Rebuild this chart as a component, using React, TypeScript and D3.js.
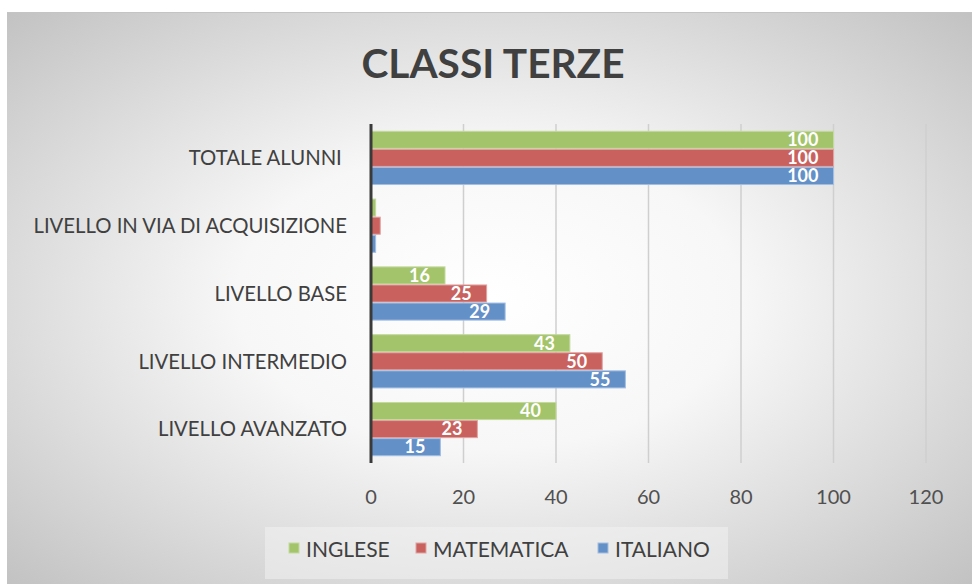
import React from "react";
import * as d3 from "d3";

const categories = [
  "TOTALE ALUNNI ",
  "LIVELLO IN VIA DI ACQUISIZIONE",
  "LIVELLO BASE",
  "LIVELLO INTERMEDIO",
  "LIVELLO AVANZATO",
];
const seriesNames = ["INGLESE", "MATEMATICA", "ITALIANO"];
const inglese = [100, 1, 16, 43, 40];
const matematica = [100, 2, 25, 50, 23];
const italiano = [100, 1, 29, 55, 15];
const xTicks = [0, 20, 40, 60, 80, 100, 120];
const colors = ["#a4c46b", "#c9625f", "#6490c8"];
const strokes = ["#c3d9a0", "#e0a3a1", "#a2bee2"];

const W = 972;
const H = 584;
const FONT = "Lato, 'Open Sans', sans-serif";

export default function App() {
  const seriesValues = [inglese, matematica, italiano];
  const x = d3.scaleLinear().domain([0, 120]).range([371, 926]);
  const y = d3
    .scaleBand<string>()
    .domain(categories)
    .range([124, 463])
    .paddingInner(0.2)
    .paddingOuter(0.1);
  const yInner = d3
    .scaleBand<string>()
    .domain(seriesNames)
    .range([0, y.bandwidth()])
    .padding(0);

  return (
    <svg
      width={W}
      height={H}
      style={{ position: "absolute", left: 0, top: 0 }}
      fontFamily={FONT}
    >
      <defs>
        <radialGradient id="bg" cx="0.5" cy="0.5" r="0.75" gradientUnits="objectBoundingBox">
          <stop offset="0" stopColor="#ffffff" />
          <stop offset="0.35" stopColor="#f7f7f7" />
          <stop offset="1" stopColor="#bdbdbd" />
        </radialGradient>
      </defs>
      <rect x={0} y={0} width={W} height={H} fill="#ffffff" />
      <rect x={7} y={12} width={W - 7} height={H - 12} fill="url(#bg)" />
      <line x1={7} x2={W} y1={12.5} y2={12.5} stroke="#c4c4c4" strokeWidth={1} />

      <text
        x={493}
        y={78}
        textAnchor="middle"
        fontSize={41}
        fontWeight="bold"
        fill="#404040"
        textLength={263}
        lengthAdjust="spacingAndGlyphs"
      >
        CLASSI TERZE
      </text>

      {xTicks.slice(1).map((t) => (
        <line
          key={"g" + t}
          x1={x(t)}
          x2={x(t)}
          y1={124}
          y2={463}
          stroke="#cfcfcf"
          strokeWidth={1.5}
        />
      ))}

      {categories.map((c, ci) =>
        seriesNames.map((s, si) => {
          const v = seriesValues[si][ci];
          const by = (y(c) as number) + (yInner(s) as number);
          const bh = yInner.bandwidth();
          return (
            <g key={c + s}>
              <rect
                x={x(0)}
                y={by + 0.5}
                width={x(v) - x(0)}
                height={bh - 1}
                fill={colors[si]}
                stroke={strokes[si]}
                strokeWidth={1}
              />
              {v >= 10 && (
                <text
                  x={x(v) - 15}
                  y={by + bh / 2}
                  dy="0.35em"
                  textAnchor="end"
                  fontSize={18}
                  fontWeight="bold"
                  fill="#ffffff"
                >
                  {v}
                </text>
              )}
            </g>
          );
        })
      )}

      <line x1={x(0)} x2={x(0)} y1={124} y2={463} stroke="#3a3a3a" strokeWidth={3} />

      {categories.map((c) => (
        <text
          key={"l" + c}
          x={347}
          y={(y(c) as number) + y.bandwidth() / 2}
          dy="0.36em"
          textAnchor="end"
          fontSize={20.3}
          fill="#404040"
          style={{ whiteSpace: "pre" }}
        >
          {c}
        </text>
      ))}

      {xTicks.map((t) => (
        <text
          key={"t" + t}
          x={x(t)}
          y={497}
          dy="0.36em"
          textAnchor="middle"
          fontSize={20}
          fill="#505050"
        >
          {t}
        </text>
      ))}

      <rect x={265} y={527} width={463} height={52} fill="#f4f4f4" opacity={0.5} />
      {seriesNames.map((s, i) => {
        const lx = [289, 416, 598][i];
        return (
          <g key={"lg" + s}>
            <rect x={lx} y={543} width={10} height={10} fill={colors[i]} stroke={strokes[i]} />
            <text x={lx + 17} y={549} dy="0.36em" fontSize={21} fill="#404040">
              {s}
            </text>
          </g>
        );
      })}
    </svg>
  );
}
